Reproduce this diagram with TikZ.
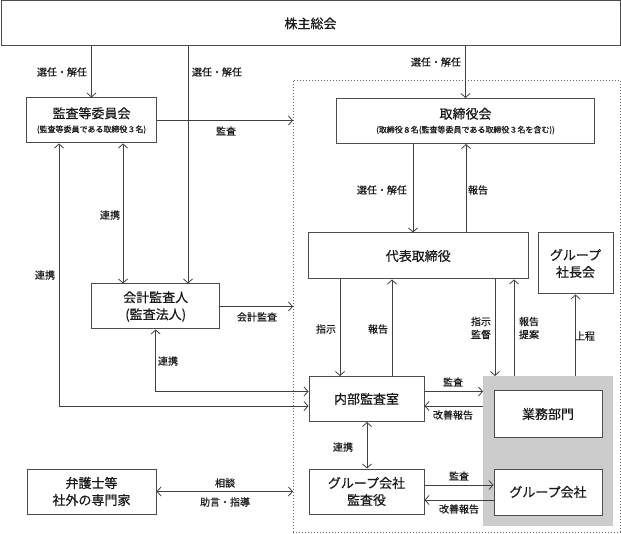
\documentclass[tikz,border=0pt]{standalone}
\usepackage{fontspec}
\setmainfont{Noto Sans CJK JP}[FakeBold=0.5]
\usetikzlibrary{arrows.meta}
\begin{document}
\begin{tikzpicture}[x=1pt,y=-1pt,
 ln/.style={draw=black!75,line width=0.8pt},
 box/.style={draw=black!70,line width=1pt,fill=white,inner sep=0pt,align=center,font=\fontsize{13}{17}\selectfont,text=black!90},
 lbl/.style={inner sep=0pt,align=center,font=\fontsize{10}{13}\selectfont,text=black!90},
 arr/.style={ln,-{Straight Barb[length=4pt,width=9pt]}},
 darr/.style={ln,{Straight Barb[length=4pt,width=9pt]}-{Straight Barb[length=4pt,width=9pt]}},
 sub/.style={font=\fontsize{8}{10}\selectfont}
]
\useasboundingbox (0,0) rectangle (621,534);
% group areas
\node[draw=black!60,dash pattern=on 1.2pt off 1.8pt,line width=0.9pt,minimum width=327,minimum height=452,anchor=north west,inner sep=0pt,outer sep=0pt] (grp) at (293,80) {};
\node[fill=black!20,minimum width=130,minimum height=150,anchor=north west,inner sep=0pt,outer sep=0pt] (gray) at (483,376) {};
% boxes
\node[box,minimum width=619,minimum height=45] (sh) at (310.5,23.5) {株主総会};
\node[box,minimum width=130,minimum height=45] (kansa) at (91.5,120.5) {監査等委員会\\[-3pt]{\fontsize{8}{10}\selectfont (監査等委員である取締役３名)}};
\node[box,minimum width=258,minimum height=45] (tori) at (465.5,121) {取締役会\\[-3pt]{\fontsize{8}{10}\selectfont (取締役８名(監査等委員である取締役３名を含む))}};
\node[box,minimum width=220,minimum height=46] (daihyo) at (418.3,256) {代表取締役};
\node[box,minimum width=75,minimum height=61] (gsh) at (575.5,263.5) {グループ\\社長会};
\node[box,minimum width=128,minimum height=45] (kaikei) at (155.7,306.5) {会計監査人\\(監査法人)};
\node[box,minimum width=115,minimum height=45] (naibu) at (366.5,399) {内部監査室};
\node[box,minimum width=115,minimum height=45] (gkk) at (366.5,491.5) {グループ会社\\監査役};
\node[box,minimum width=129,minimum height=45] (bengo) at (91.5,491.5) {弁護士等\\社外の専門家};
\node[box,minimum width=108,minimum height=46] (gyomu) at (548,414) {業務部門};
\node[box,minimum width=108,minimum height=46] (gk) at (548,492) {グループ会社};
% helper coordinates
\coordinate (x59) at (59,0);
\coordinate (x123) at (123,0);
\coordinate (x188) at (188,0);
\coordinate (x340) at (340,0);
\coordinate (x367) at (367,0);
\coordinate (x392) at (392,0);
\coordinate (x413) at (413,0);
\coordinate (x466) at (466,0);
\coordinate (x495) at (495,0);
\coordinate (x514) at (514,0);
\coordinate (y391) at (0,391.5);
\coordinate (y406) at (0,406);
\coordinate (y485) at (0,485);
\coordinate (y500) at (0,500);
% connectors
\draw[arr] (sh.south -| kansa.north) -- (kansa.north);
\draw[arr] (sh.south -| x188) -- (kaikei.north -| x188);
\draw[arr] (sh.south -| tori.north) -- (tori.north);
\draw[arr] (kansa.east) -- (kansa.east -| grp.west);
\draw[arr] (tori.south -| x413) -- (daihyo.north -| x413);
\draw[arr] (daihyo.north -| x466) -- (tori.south -| x466);
\draw[arr] (daihyo.south -| x340) -- (naibu.north -| x340);
\draw[arr] (naibu.north -| x392) -- (daihyo.south -| x392);
\draw[arr] (daihyo.south -| x495) -- (gray.north -| x495);
\draw[arr] (gray.north -| x514) -- (daihyo.south -| x514);
\draw[arr] (gray.north -| gsh.south) -- (gsh.south);
\draw[arr] (kaikei.east) -- (kaikei.east -| grp.west);
\draw[darr] (kansa.south -| x123) -- (kaikei.north -| x123);
\draw[darr] (kansa.south -| x59) -- (x59 |- y406) -- (naibu.west |- y406);
\draw[darr] (kaikei.south) -- (kaikei.south |- y391) -- (naibu.west |- y391);
\draw[arr] (naibu.east |- y391) -- (gray.west |- y391);
\draw[arr] (gray.west |- y406) -- (naibu.east |- y406);
\draw[darr] (naibu.south -| x367) -- (gkk.north -| x367);
\draw[arr] (gkk.east |- y485) -- (gk.west |- y485);
\draw[arr] (gk.west |- y500) -- (gkk.east |- y500);
\draw[darr] (bengo.east) -- (bengo.east -| grp.west);
% labels
\node[lbl] (l1) at (62,72) {選任・解任};
\node[lbl] (l2) at (217,72) {選任・解任};
\node[lbl] (l3) at (436,62) {選任・解任};
\node[lbl] (l4) at (226,131) {監査};
\node[lbl] (l5) at (110,215) {連携};
\node[lbl] (l6) at (45,275) {連携};
\node[lbl] (l7) at (382,190) {選任・解任};
\node[lbl] (l8) at (478,190) {報告};
\node[lbl] (l9) at (326,329) {指示};
\node[lbl] (l10) at (378,329) {報告};
\node[lbl] (l11) at (481,328) {指示\\監督};
\node[lbl] (l12) at (529,328) {報告\\提案};
\node[lbl] (l13) at (585,336) {上程};
\node[lbl] (l14) at (257,317) {会計監査};
\node[lbl] (l15) at (168,361) {連携};
\node[lbl] (l16) at (453,382) {監査};
\node[lbl] (l17) at (453,415) {改善報告};
\node[lbl] (l18) at (343,447) {連携};
\node[lbl] (l19) at (459,476) {監査};
\node[lbl] (l20) at (459,509) {改善報告};
\node[lbl] (l21) at (225,483) {相談};
\node[lbl] (l22) at (225,502) {助言・指導};
\end{tikzpicture}
\end{document}
